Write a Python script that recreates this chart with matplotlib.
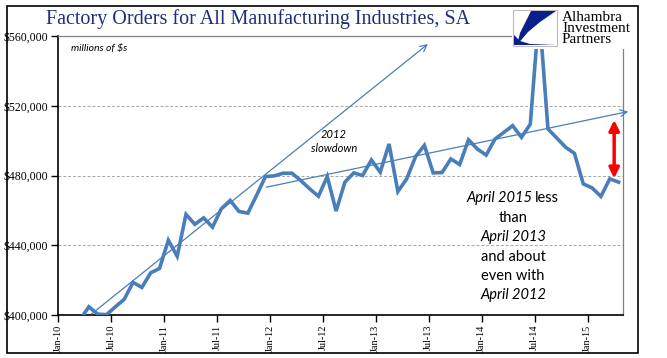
import numpy as np
import pandas as pd
import matplotlib
matplotlib.use('Agg')
import matplotlib.pyplot as plt
from matplotlib.patches import Rectangle, Polygon

# data (millions of $), monthly Jan-10 .. Apr-15
months = pd.date_range('2010-01-01', '2015-04-01', freq='MS')
orders = [385000, 391000, 397400, 404700, 400500, 400200, 404700, 409000,
          418700, 415800, 424200, 426700, 442900, 433700, 457700, 452000,
          455700, 450400, 460900, 465700, 459400, 458400, 468700, 479400,
          479800, 481300, 481300, 477100, 472400, 468100, 479400, 459600,
          476200, 481500, 480000, 488900, 481900, 498100, 470800, 478100,
          490800, 497300, 481500, 481700, 489500, 486300, 500500, 495200,
          491700, 500900, 504700, 508600, 501900, 509500, 574000, 506700,
          501500, 496200, 492700, 475200, 472900, 468000, 478100, 476200]
y_ticks = [400000, 440000, 480000, 520000, 560000]
tick_labels = [m.strftime('%b-%y') for m in months[::6]]

W, H = 667, 358
fig = plt.figure(figsize=(W / 100, H / 100), dpi=100)


def px(x, y):
    return x / W, 1 - y / H


blue = '#4A7EBB'
serif = 'Liberation Serif'
sans = ['Lato', 'DejaVu Sans']

ax = fig.add_axes([58 / W, 1 - 315 / H, (623 - 58) / W, (315 - 36) / H])
x = np.arange(len(orders))
ax.plot(x, orders, color=blue, lw=2.6, solid_joinstyle='miter', zorder=3)
ax.set_xlim(-0.5, len(orders) - 0.5)
ax.set_ylim(400000, 560000)

ax.set_yticks(y_ticks)
ax.set_yticklabels(['${:,.0f}'.format(v) for v in y_ticks], fontfamily=serif, fontsize=8.5)
ax.set_xticks(np.arange(0, len(orders), 6) - 0.5)
ax.set_xticklabels(tick_labels, rotation=90, fontfamily=serif, fontsize=7.4)
ax.tick_params(axis='both', direction='out', length=5, width=1, pad=2)
for yv in y_ticks[1:-1]:
    ax.axhline(yv, color='#A6A6A6', lw=0.7, ls=(0, (3, 2)), zorder=1)

for s in ['left', 'bottom']:
    ax.spines[s].set_color('black')
    ax.spines[s].set_linewidth(1.2)
for s in ['top', 'right']:
    ax.spines[s].set_color('#808080')
    ax.spines[s].set_linewidth(0.9)

# trend lines
ax.annotate('', xy=(41.4, 555400), xytext=(3.3, 400600),
            arrowprops=dict(arrowstyle='->', color=blue, lw=0.9,
                            mutation_scale=12, shrinkA=0, shrinkB=0),
            annotation_clip=False)
ax.annotate('', xy=(64.1, 516700), xytext=(23.1, 473300),
            arrowprops=dict(arrowstyle='->', color=blue, lw=0.9,
                            mutation_scale=12, shrinkA=0, shrinkB=0),
            annotation_clip=False)
# red gap arrow
ax.annotate('', xy=(62.5, 511800), xytext=(62.5, 478400),
            arrowprops=dict(arrowstyle='<|-|>', color='#FF0000', lw=2.5,
                            mutation_scale=15, shrinkA=0, shrinkB=0),
            annotation_clip=False, zorder=5)

# text annotations
fig.text(*px(71, 48), 'millions of $s', fontfamily=sans, style='italic',
         fontsize=7.5, ha='left', va='center')
fig.text(*px(334, 135), '2012', fontfamily=sans, style='italic',
         fontsize=8, ha='center', va='center')
fig.text(*px(334, 148), 'slowdown', fontfamily=sans, style='italic',
         fontsize=8, ha='center', va='center')

fs = 10.5
fig.text(*px(532, 198), 'April 2015', fontfamily=sans, style='italic',
         fontsize=fs, ha='right', va='center')
fig.text(*px(535, 198), 'less', fontfamily=sans, fontsize=fs, ha='left', va='center')
lines = [('than', 'normal', 218), ('April 2013', 'italic', 237),
         ('and about', 'normal', 257), ('even with', 'normal', 276),
         ('April 2012', 'italic', 295)]
for t, st, yy in lines:
    fig.text(*px(513, yy), t, fontfamily=sans, style=st, fontsize=fs,
             ha='center', va='center')

# title
fig.text(*px(258, 19), 'Factory Orders for All Manufacturing Industries, SA',
         fontfamily=serif, fontsize=14.5, color='#1F2E7A', ha='center', va='center')

# logo
lax = fig.add_axes([512 / W, 1 - 49 / H, (636 - 512) / W, (49 - 8) / H])
lax.set_xlim(512, 636)
lax.set_ylim(49, 8)
lax.set_facecolor('white')
lax.set_axis_off()
lax.add_patch(Rectangle((512, 8), 124, 41, facecolor='white', edgecolor='none'))
lax.add_patch(Rectangle((513, 10), 44, 36, facecolor='white', edgecolor='#BBBBBB', lw=0.8))
navy = '#0A1E8C'
lax.add_patch(Polygon([(531, 11), (556, 11), (540, 22), (528, 32), (517, 45),
                       (520, 33)], closed=True, facecolor=navy, edgecolor='none'))
lax.add_patch(Polygon([(514, 45), (514, 35), (520, 41), (530, 44), (556, 45)],
                      closed=True, facecolor=navy, edgecolor='none'))
lax.text(562, 28.5, 'Alhambra\nInvestment\nPartners', fontfamily=serif,
         fontsize=11, linespacing=0.78, ha='left', va='center')

# outer frame
fig.add_artist(Rectangle(px(7, 353), 631 / W, 347 / H, transform=fig.transFigure,
                         facecolor='none', edgecolor='black', lw=1.2))

fig.savefig('out.png', dpi=100)
